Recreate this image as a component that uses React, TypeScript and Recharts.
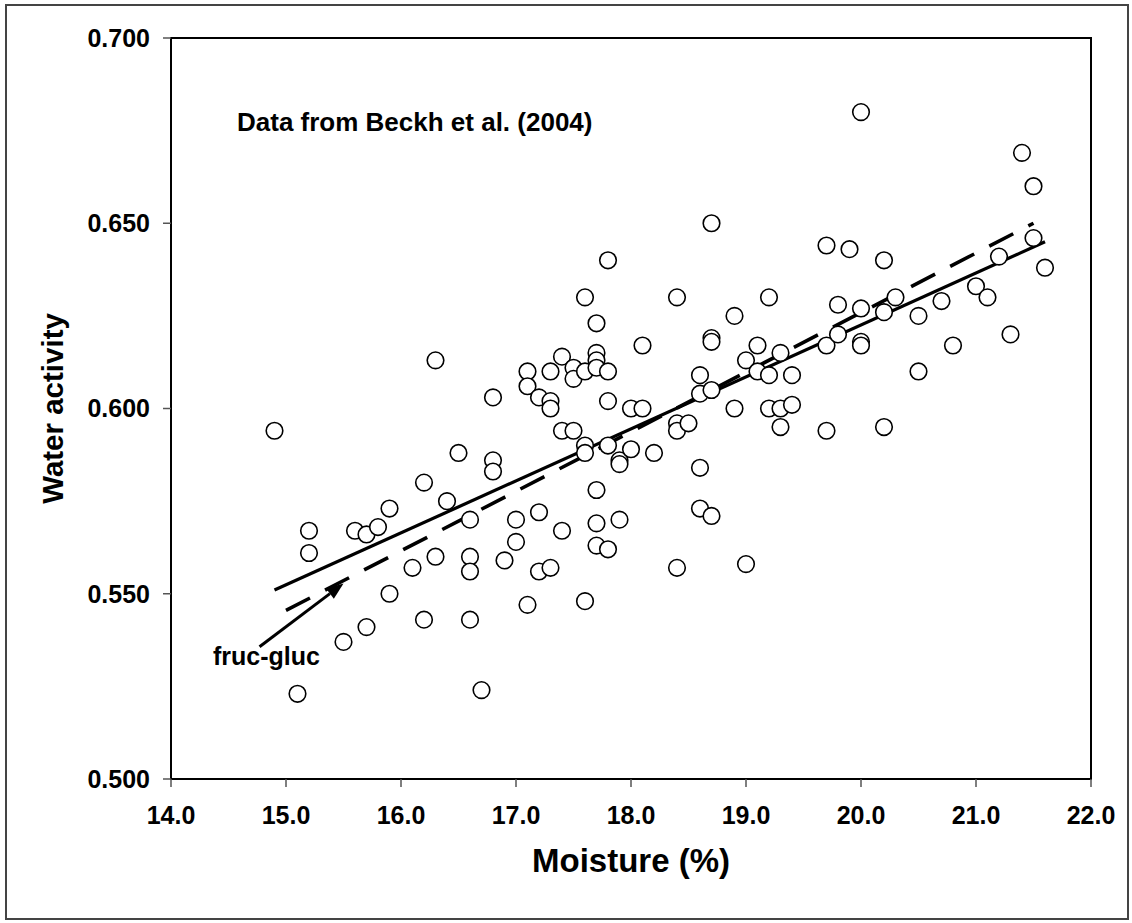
import { Label, ReferenceArea, ReferenceDot, ReferenceLine, Scatter, ScatterChart, XAxis, YAxis } from 'recharts'

// Beckh et al. (2004) honey samples
const moisture = [
  14.9, 15.1, 15.2, 15.2, 15.5, 15.6, 15.7, 15.7, 15.8, 15.9, 15.9, 16.1, 16.2, 16.2, 16.3, 16.3, 16.4, 16.5,
  16.6, 16.6, 16.6, 16.6, 16.7, 16.8, 16.8, 16.8, 16.9, 17.0, 17.0, 17.1, 17.1, 17.1, 17.2, 17.2, 17.2, 17.3,
  17.3, 17.3, 17.3, 17.4, 17.4, 17.4, 17.5, 17.5, 17.5, 17.6, 17.6, 17.6, 17.6, 17.6, 17.7, 17.7, 17.7, 17.7,
  17.7, 17.7, 17.7, 17.8, 17.8, 17.8, 17.8, 17.8, 17.9, 17.9, 17.9, 18.0, 18.0, 18.1, 18.1, 18.2, 18.4, 18.4,
  18.4, 18.4, 18.5, 18.6, 18.6, 18.6, 18.6, 18.7, 18.7, 18.7, 18.7, 18.7, 18.9, 18.9, 19.0, 19.0, 19.1, 19.1,
  19.2, 19.2, 19.2, 19.3, 19.3, 19.3, 19.4, 19.4, 19.7, 19.7, 19.7, 19.8, 19.8, 19.9, 20.0, 20.0, 20.0, 20.0,
  20.2, 20.2, 20.2, 20.3, 20.5, 20.5, 20.7, 20.8, 21.0, 21.1, 21.2, 21.3, 21.4, 21.5, 21.5, 21.6,
]

const waterActivity = [
  0.594, 0.523, 0.567, 0.561, 0.537, 0.567, 0.566, 0.541, 0.568, 0.573, 0.55, 0.557, 0.58, 0.543, 0.613, 0.56, 0.575, 0.588,
  0.57, 0.56, 0.556, 0.543, 0.524, 0.603, 0.586, 0.583, 0.559, 0.57, 0.564, 0.61, 0.606, 0.547, 0.603, 0.572, 0.556, 0.61,
  0.602, 0.6, 0.557, 0.614, 0.594, 0.567, 0.611, 0.608, 0.594, 0.63, 0.61, 0.59, 0.588, 0.548, 0.623, 0.615, 0.613, 0.611,
  0.578, 0.569, 0.563, 0.64, 0.61, 0.602, 0.59, 0.562, 0.586, 0.585, 0.57, 0.6, 0.589, 0.617, 0.6, 0.588, 0.63, 0.596,
  0.594, 0.557, 0.596, 0.609, 0.604, 0.584, 0.573, 0.65, 0.619, 0.618, 0.605, 0.571, 0.625, 0.6, 0.613, 0.558, 0.617, 0.61,
  0.63, 0.609, 0.6, 0.615, 0.6, 0.595, 0.609, 0.601, 0.644, 0.617, 0.594, 0.628, 0.62, 0.643, 0.68, 0.627, 0.618, 0.617,
  0.64, 0.626, 0.595, 0.63, 0.625, 0.61, 0.629, 0.617, 0.633, 0.63, 0.641, 0.62, 0.669, 0.66, 0.646, 0.638,
]

// regression lines (end points)
const fitAll = [
  { x: 14.9, y: 0.551 },
  { x: 21.6, y: 0.645 },
]
const fitFrucGluc = [
  { x: 15.0, y: 0.5455 },
  { x: 21.5, y: 0.65 },
]
const arrow = [
  { x: 14.77, y: 0.5357 },
  { x: 15.5, y: 0.5528 },
]

const xTicks = [14, 15, 16, 17, 18, 19, 20, 21, 22]
const yTicks = [0.5, 0.55, 0.6, 0.65, 0.7]

const points = moisture.map((x, i) => ({ x, y: waterActivity[i] }))

const font = '"Liberation Sans", Arial, sans-serif'

const Circle = (props: any) => (
  <circle cx={props.cx} cy={props.cy} r={8.3} fill="#fff" stroke="#000" strokeWidth={1.6} />
)

const Arrow = (props: any) => {
  const { x1, y1, x2, y2 } = props
  const dx = x2 - x1
  const dy = y2 - y1
  const len = Math.sqrt(dx * dx + dy * dy)
  const ux = dx / len
  const uy = dy / len
  const headLen = 17
  const headW = 6.5
  const bx = x2 - ux * headLen
  const by = y2 - uy * headLen
  return (
    <g>
      <line x1={x1} y1={y1} x2={bx} y2={by} stroke="#000" strokeWidth={3} />
      <polygon
        points={`${x2},${y2} ${bx - uy * headW},${by + ux * headW} ${bx + uy * headW},${by - ux * headW}`}
        fill="#000"
      />
    </g>
  )
}

const textLabel = (value: string, size: number) => (p: any) => (
  <text x={p.viewBox.x} y={p.viewBox.y} fontFamily={font} fontWeight="bold" fontSize={size} fill="#000">
    {value}
  </text>
)

export default function App() {
  return (
    <div style={{ position: 'absolute', left: 0, top: 0, width: 1132, height: 923, background: '#fff' }}>
      <div
        style={{
          position: 'absolute',
          left: 5,
          top: 4,
          width: 1120,
          height: 912,
          border: '2px solid #444',
        }}
      />
      <div style={{ position: 'absolute', left: 0, top: 0 }}>
        <ScatterChart width={1132} height={923} margin={{ top: 38, right: 41, bottom: 84, left: 71 }}>
          <XAxis
            type="number"
            dataKey="x"
            domain={[14, 22]}
            ticks={xTicks}
            tickFormatter={(v: number) => v.toFixed(1)}
            height={60}
            tickSize={8}
            tickMargin={19}
            axisLine={{ stroke: '#000', strokeWidth: 2 }}
            tickLine={{ stroke: '#555', strokeWidth: 1.5 }}
            tick={{ fill: '#000', fontSize: 25, fontWeight: 'bold', fontFamily: font }}
          >
            <Label
              content={(p: any) => (
                <text
                  x={p.viewBox.x + p.viewBox.width / 2}
                  y={872}
                  textAnchor="middle"
                  fontFamily={font}
                  fontWeight="bold"
                  fontSize={33}
                  fill="#000"
                >
                  Moisture (%)
                </text>
              )}
            />
          </XAxis>
          <YAxis
            type="number"
            dataKey="y"
            domain={[0.5, 0.7]}
            ticks={yTicks}
            tickFormatter={(v: number) => v.toFixed(3)}
            width={100}
            tickSize={8}
            tickMargin={13}
            axisLine={{ stroke: '#000', strokeWidth: 2 }}
            tickLine={{ stroke: '#555', strokeWidth: 1.5 }}
            tick={{ fill: '#000', fontSize: 25, fontWeight: 'bold', fontFamily: font }}
          >
            <Label
              content={(p: any) => (
                <text
                  x={52}
                  y={p.viewBox.y + p.viewBox.height / 2}
                  transform={`rotate(-90 52 ${p.viewBox.y + p.viewBox.height / 2})`}
                  textAnchor="middle"
                  dominantBaseline="central"
                  fontFamily={font}
                  fontWeight="bold"
                  fontSize={29.5}
                  fill="#000"
                >
                  Water activity
                </text>
              )}
            />
          </YAxis>
          <ReferenceArea x1={14} x2={22} y1={0.5} y2={0.7} fill="none" stroke="#000" strokeWidth={2} />
          <Scatter data={points} shape={Circle} isAnimationActive={false} />
          <ReferenceLine segment={fitAll} stroke="#000" strokeWidth={3.2} />
          <ReferenceLine segment={fitFrucGluc} stroke="#000" strokeWidth={3.6} strokeDasharray="27 17" />
          <ReferenceLine segment={arrow} shape={Arrow} />
          <ReferenceDot
            x={14.574}
            y={0.6749}
            r={0}
            fill="none"
            stroke="none"
            label={textLabel('Data from Beckh et al. (2004)', 26)}
          />
          <ReferenceDot x={14.365} y={0.5308} r={0} fill="none" stroke="none" label={textLabel('fruc-gluc', 25)} />
        </ScatterChart>
      </div>
    </div>
  )
}
